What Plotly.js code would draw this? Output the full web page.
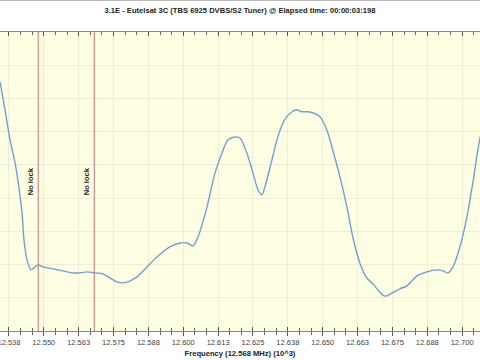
<!DOCTYPE html>
<html>
<head>
<meta charset="utf-8">
<script src="https://cdn.plot.ly/plotly-3.0.1.min.js"></script>
<style>html,body{margin:0;padding:0;background:#fff;}#chart{width:480px;height:360px;}</style>
</head>
<body>
<div id="chart"></div>
<script>
// Spectrum trace: frequency (GHz) and level (relative units)
const freq = [12.5343,12.5361,12.5379,12.5397,12.5407,12.5422,12.5429,12.5440,12.5454,12.5461,12.5479,12.5497,12.5533,12.5569,12.5601,12.5630,12.5655,12.5683,12.5712,12.5737,12.5762,12.5784,12.5802,12.5834,12.5870,12.5906,12.5952,12.5988,12.6013,12.6035,12.6053,12.6085,12.6114,12.6139,12.6160,12.6185,12.6203,12.6228,12.6250,12.6268,12.6282,12.6293,12.6318,12.6339,12.6364,12.6390,12.6407,12.6425,12.6447,12.6465,12.6490,12.6515,12.6536,12.6562,12.6587,12.6608,12.6633,12.6658,12.6680,12.6705,12.6723,12.6748,12.6777,12.6802,12.6838,12.6873,12.6913,12.6931,12.6949,12.6967,12.6992,12.7017,12.7040,12.7058,12.7071];
const level = [75.0,66.6,57.5,50.6,45.5,35.5,27.4,21.4,18.4,18.7,19.9,19.3,18.7,18.1,17.5,17.5,17.8,17.5,17.2,16.0,14.8,14.5,14.8,16.3,19.3,22.3,25.3,26.5,26.5,25.6,28.3,37.3,47.6,53.6,57.5,58.4,58.1,53.6,47.6,42.5,41.0,43.4,51.5,58.4,63.6,66.0,66.6,66.0,66.0,65.7,64.5,60.5,54.5,46.4,37.3,28.3,20.5,16.0,14.2,11.7,10.5,11.4,12.7,13.6,16.6,17.8,18.4,18.1,17.5,19.3,25.3,34.3,45.5,55.4,61.1];
// Markers for "No lock" positions
const lockFreqs = [12.548, 12.5681];
const lockLabels = ["No lock", "No lock"];
// Tick positions and labels
const tickVals = [12.5375,12.55,12.5625,12.575,12.5875,12.6,12.6125,12.625,12.6375,12.65,12.6625,12.675,12.6875,12.7];
const tickText = ["12.538","12.550","12.563","12.575","12.588","12.600","12.613","12.625","12.638","12.650","12.663","12.675","12.688","12.700"];

const xRange = [12.5343, 12.7064];
const fontFam = '"Liberation Sans", Arial, sans-serif';

const traces = [{
  x: freq, y: level, type: 'scatter', mode: 'lines',
  line: {color: '#6fa0d4', width: 1.4, shape: 'spline', smoothing: 0.8},
  hoverinfo: 'skip', showlegend: false
}];

const shapes = lockFreqs.map(f => ({
  type: 'line', xref: 'x', yref: 'paper', x0: f, x1: f, y0: 0, y1: 1,
  line: {color: '#c87070', width: 1}
}));
shapes.push({type:'line', xref:'paper', yref:'paper', x0:0, x1:1, y0:1+31.5/299, y1:1+31.5/299, line:{color:'#bbbbbb', width:1}});

const annotations = lockFreqs.map((f, i) => ({
  x: f, xref: 'x', y: 0.5, yref: 'paper', text: '<b>' + lockLabels[i] + '</b>',
  textangle: -90, showarrow: false, xanchor: 'right', yanchor: 'middle', xshift: -1,
  font: {family: fontFam, size: 7.5, color: '#222'}
}));

const layout = {
  width: 480, height: 360,
  margin: {l: 0, r: 0, t: 32, b: 29, pad: 0},
  paper_bgcolor: '#ffffff', plot_bgcolor: '#fefee3',
  title: {text: '<b>3.1E - Eutelsat 3C (TBS 6925 DVBS/S2 Tuner) @ Elapsed time: 00:00:03:198</b>',
    x: 0.5, xanchor: 'center', y: 1 - 10/360, yref: 'container', yanchor: 'middle',
    font: {family: fontFam, size: 7.6, color: '#222'}},
  xaxis: {
    range: xRange, tickmode: 'array', tickvals: tickVals, ticktext: tickText,
    ticks: 'outside', ticklen: 4, tickcolor: '#555', tickwidth: 1,
    minor: {tick0: 12.5375, dtick: 0.0125/3, ticks: 'outside', ticklen: 3, tickcolor: '#666', showgrid: false},
    showline: true, linecolor: '#777', linewidth: 1, mirror: false,
    showgrid: true, gridcolor: '#eeeed6', gridwidth: 1, zeroline: false,
    tickfont: {family: fontFam, size: 7.5, color: '#444'},
    ticklabeloverflow: 'allow',
    title: {text: '<b>Frequency (12.568 MHz) (10^3)</b>', standoff: 4, font: {family: fontFam, size: 7.6, color: '#222'}},
    automargin: false, fixedrange: true
  },
  xaxis2: {
    overlaying: 'x', anchor: 'y', side: 'bottom', matches: 'x',
    tickmode: 'array', tickvals: tickVals, showticklabels: false,
    ticks: 'inside', ticklen: 4, tickcolor: '#555', mirror: 'ticks', showline: true, linecolor: '#888',
    minor: {tick0: 12.5375, dtick: 0.0125/3, ticks: 'inside', ticklen: 3, tickcolor: '#666', showgrid: false},
    showgrid: false, zeroline: false
  },
  yaxis: {
    range: [0, 90], dtick: 10, showticklabels: false, ticks: '',
    showgrid: true, gridcolor: '#eeeed6', zeroline: false, showline: false, fixedrange: true
  },
  shapes: shapes,
  annotations: annotations
};

traces.push({x: [xRange[0]], y: [null], xaxis: 'x2', yaxis: 'y', type: 'scatter', mode: 'lines', showlegend: false, hoverinfo: 'skip'});

Plotly.newPlot('chart', traces, layout, {staticPlot: true, displayModeBar: false});
</script>
</body>
</html>
